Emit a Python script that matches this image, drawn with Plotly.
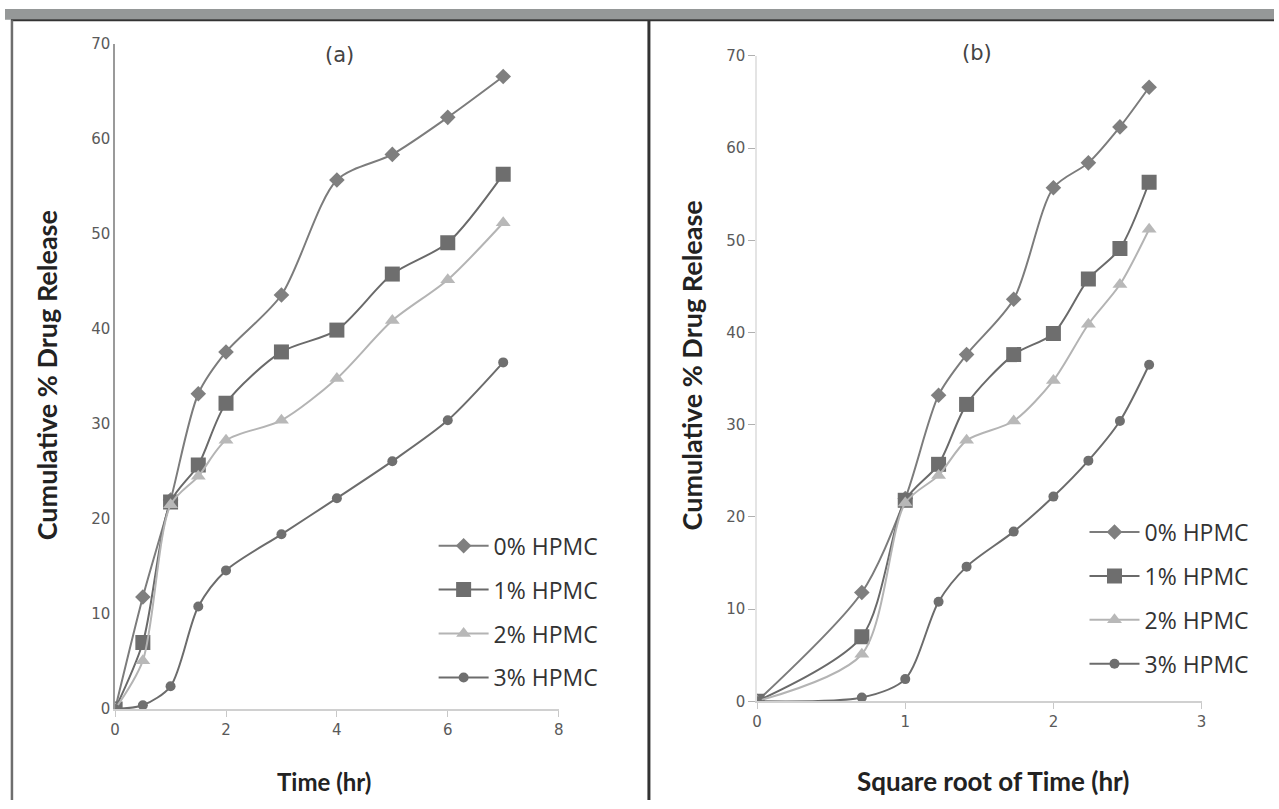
import plotly.graph_objects as go

time_hr = [0, 0.5, 1, 1.5, 2, 3, 4, 5, 6, 7]
sqrt_time = [0, 0.707, 1, 1.225, 1.414, 1.732, 2, 2.236, 2.449, 2.646]

series_names = ["0% HPMC", "1% HPMC", "2% HPMC", "3% HPMC"]
hpmc_0 = [0, 11.8, 22.0, 33.2, 37.6, 43.6, 55.7, 58.4, 62.3, 66.6]
hpmc_1 = [0, 7.0, 21.8, 25.7, 32.2, 37.6, 39.9, 45.8, 49.1, 56.3]
hpmc_2 = [0, 5.1, 21.5, 24.5, 28.3, 30.4, 34.8, 40.9, 45.2, 51.2]
hpmc_3 = [0, 0.4, 2.4, 10.8, 14.6, 18.4, 22.2, 26.1, 30.4, 36.5]

y_ticks = [0, 10, 20, 30, 40, 50, 60, 70]
x_ticks_a = [0, 2, 4, 6, 8]
x_ticks_b = [0, 1, 2, 3]

values = [hpmc_0, hpmc_1, hpmc_2, hpmc_3]
line_colors = ["#7c7c7c", "#6a6a6a", "#b4b4b4", "#6c6c6c"]
marker_colors = ["#7f7f7f", "#6e6e6e", "#b8b8b8", "#6f6f6f"]
symbols = ["diamond", "square", "triangle-up", "circle"]
sizes = [12, 15, 13, 10]

W, H = 1279, 809
def px(x):
    return x / W
def py(y):
    return (H - y) / H

fig = go.Figure()

for i, (name, vals) in enumerate(zip(series_names, values)):
    fig.add_trace(go.Scatter(
        x=time_hr, y=vals, name=name, mode="lines+markers",
        line=dict(color=line_colors[i], width=2, shape="spline", smoothing=0.8),
        marker=dict(symbol=symbols[i], size=sizes[i], color=marker_colors[i]),
        xaxis="x", yaxis="y", legend="legend", legendgroup="a%d" % i,
    ))
for i, (name, vals) in enumerate(zip(series_names, values)):
    fig.add_trace(go.Scatter(
        x=sqrt_time, y=vals, name=name, mode="lines+markers",
        line=dict(color=line_colors[i], width=2, shape="spline", smoothing=0.8),
        marker=dict(symbol=symbols[i], size=sizes[i], color=marker_colors[i]),
        xaxis="x2", yaxis="y2", legend="legend2", legendgroup="b%d" % i,
    ))

tickfont = dict(family="DejaVu Sans, sans-serif", size=15, color="#5a5a5a")

fig.update_layout(
    width=W, height=H,
    margin=dict(l=0, r=0, t=0, b=0),
    paper_bgcolor="white", plot_bgcolor="white",
    showlegend=True,
    xaxis=dict(domain=[px(111), px(558)], range=[0, 8], tickvals=x_ticks_a,
               showgrid=False, zeroline=False, showline=True, linecolor="#d0d0d0", linewidth=1.5,
               ticks="outside", ticklen=6, tickcolor="#c8c8c8", tickfont=tickfont,
               anchor="y"),
    yaxis=dict(domain=[py(716), py(36)], range=[0, 70], tickvals=y_ticks,
               showgrid=False, zeroline=False, showline=True, linecolor="#9a9a9a", linewidth=1.5,
               ticks="", tickfont=tickfont, anchor="x"),
    xaxis2=dict(domain=[px(758), px(1206)], range=[0, 3], tickvals=x_ticks_b,
                showgrid=False, zeroline=False, showline=True, linecolor="#d0d0d0", linewidth=1.5,
                ticks="outside", ticklen=6, tickcolor="#c8c8c8", tickfont=tickfont,
                anchor="y2"),
    yaxis2=dict(domain=[py(708), py(48)], range=[0, 70], tickvals=y_ticks,
                showgrid=False, zeroline=False, showline=True, linecolor="#e4e4e4", linewidth=1.5,
                ticks="outside", ticklen=7, tickcolor="#b0b0b0", tickfont=tickfont,
                anchor="x2"),
    legend=dict(x=px(432), y=py(527), xanchor="left", yanchor="top",
                font=dict(family="Open Sans, sans-serif", size=23, color="#333333"),
                bgcolor="rgba(0,0,0,0)", tracegroupgap=11, itemwidth=50),
    legend2=dict(x=px(1088), y=py(513), xanchor="left", yanchor="top",
                 font=dict(family="Open Sans, sans-serif", size=23, color="#333333"),
                 bgcolor="rgba(0,0,0,0)", tracegroupgap=11, itemwidth=50),
)

ytitle_font = dict(family="Lato, Open Sans, sans-serif", size=27, color="#222222")
ann = [
    dict(text="(a)", x=px(337), y=py(47), font=dict(family="DejaVu Sans, sans-serif", size=21, color="#444444")),
    dict(text="(b)", x=px(980), y=py(45), font=dict(family="DejaVu Sans, sans-serif", size=21, color="#444444")),
    dict(text="<b>Cumulative % Drug Release</b>", x=px(42), y=py(375), textangle=-90, font=ytitle_font),
    dict(text="<b>Cumulative % Drug Release</b>", x=px(692), y=py(365), textangle=-90, font=ytitle_font),
    dict(text="<b>Time (hr)</b>", x=px(322), y=py(790),
         font=dict(family="Lato, Open Sans, sans-serif", size=24, color="#222222")),
    dict(text="<b>Square root of Time (hr)</b>", x=px(996), y=py(790),
         font=dict(family="Lato, Open Sans, sans-serif", size=26, color="#222222")),
]
for a in ann:
    a.update(xref="paper", yref="paper", showarrow=False, xanchor="center", yanchor="middle")
    fig.add_annotation(**a)

shapes = [
    dict(type="rect", x0=0, x1=1, y0=py(11), y1=1, fillcolor="#959898", line=dict(width=0)),
    dict(type="line", x0=px(6), x1=1, y0=py(11.5), y1=py(11.5), line=dict(color="#333333", width=2)),
    dict(type="line", x0=px(7), x1=px(7), y0=0, y1=py(11.5), line=dict(color="#6e6e6e", width=2.5)),
    dict(type="line", x0=px(649), x1=px(649), y0=0, y1=py(11.5), line=dict(color="#333333", width=3)),
]
for s in shapes:
    s.update(xref="paper", yref="paper", layer="above")
    fig.add_shape(**s)

fig.write_html(
    "out.html",
    config={"displayModeBar": False},
    post_script="document.body.style.margin='0px';document.body.style.overflow='hidden';",
)
